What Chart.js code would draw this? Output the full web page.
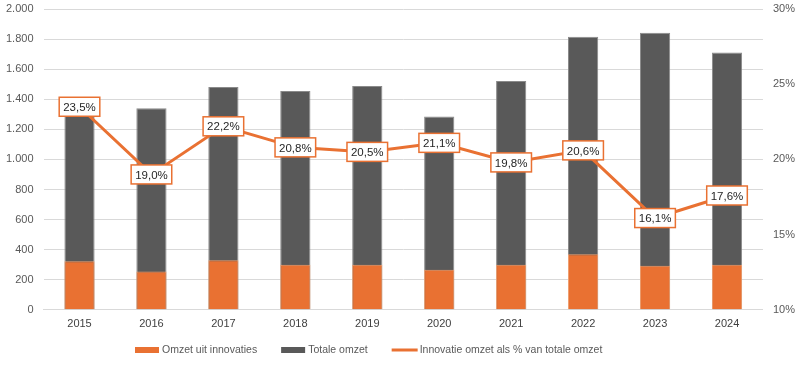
<!DOCTYPE html>
<html>
<head>
<meta charset="utf-8">
<script src="https://cdn.jsdelivr.net/npm/chart.js@4.4.1/dist/chart.umd.min.js"></script>
<style>
  html, body { margin: 0; padding: 0; background: #fff; }
  .wrap { width: 805px; height: 369px; }
</style>
</head>
<body>
<div class="wrap"><canvas id="chart" width="805" height="369"></canvas></div>
<script>
// jaren en waarden
const years = ['2015', '2016', '2017', '2018', '2019', '2020', '2021', '2022', '2023', '2024'];
const omzetInnovaties = [322, 255, 329, 300, 300, 267, 300, 369, 293, 300];
const totaleOmzet = [1290, 1340, 1482, 1455, 1488, 1285, 1522, 1815, 1842, 1711];
const aandeelPct = [23.5, 19.0, 22.2, 20.8, 20.5, 21.1, 19.8, 20.6, 16.1, 17.6];

const ORANGE = '#E97132', GREY = '#595959', TICK = '#595959', GRID = '#d9d9d9';
const FONT = "'Liberation Sans', Arial, sans-serif";

// label-kaders op de lijn
const boxLabels = {
    id: 'boxLabels',
    afterDatasetsDraw(chart) {
        const meta = chart.getDatasetMeta(2);
        const ctx = chart.ctx;
        ctx.save();
        ctx.font = `11.5px ${FONT}`;
        ctx.textAlign = 'center';
        ctx.textBaseline = 'middle';
        meta.data.forEach((pt, i) => {
            const txt = aandeelPct[i].toFixed(1).replace('.', ',') + '%';
            const w = ctx.measureText(txt).width + 8, h = 19;
            ctx.fillStyle = '#fff';
            ctx.fillRect(pt.x - w / 2, pt.y - h / 2, w, h);
            ctx.strokeStyle = ORANGE;
            ctx.lineWidth = 1.5;
            ctx.strokeRect(pt.x - w / 2, pt.y - h / 2, w, h);
            ctx.fillStyle = '#262626';
            ctx.fillText(txt, pt.x, pt.y + 1);
        });
        ctx.restore();
    }
};

// legenda onderaan, zoals in Excel (links uitgelijnd op x=135)
const bottomLegend = {
    id: 'bottomLegend',
    afterDraw(chart) {
        const ctx = chart.ctx;
        const y = 350;
        let x = 135;
        ctx.save();
        ctx.font = `10.5px ${FONT}`;
        ctx.textBaseline = 'middle';
        ctx.textAlign = 'left';
        chart.data.datasets.forEach(ds => {
            if (ds.type === 'line') {
                ctx.strokeStyle = ds.borderColor;
                ctx.lineWidth = 3;
                ctx.beginPath(); ctx.moveTo(x, y); ctx.lineTo(x + 26, y); ctx.stroke();
                x += 28;
            } else {
                ctx.fillStyle = ds.backgroundColor;
                ctx.fillRect(x, y - 3, 24, 6);
                x += 27;
            }
            ctx.fillStyle = TICK;
            ctx.fillText(ds.label, x, y);
            x += ctx.measureText(ds.label).width + 24;
        });
        ctx.restore();
    }
};

const noVertPad = s => { s.paddingTop = 0; s.paddingBottom = 0; };

new Chart(document.getElementById('chart'), {
    data: {
        labels: years,
        datasets: [
            { type: 'bar', label: 'Omzet uit innovaties', data: omzetInnovaties, backgroundColor: ORANGE, borderColor: '#f0a070', borderWidth: 1, grouped: false, order: 2, yAxisID: 'y', barPercentage: 0.42, categoryPercentage: 1 },
            { type: 'bar', label: 'Totale omzet', data: totaleOmzet, backgroundColor: GREY, borderColor: '#8a8a8a', borderWidth: 1, grouped: false, order: 3, yAxisID: 'y', barPercentage: 0.42, categoryPercentage: 1 },
            { type: 'line', label: 'Innovatie omzet als % van totale omzet', data: aandeelPct, borderColor: ORANGE, backgroundColor: ORANGE, borderWidth: 3, pointRadius: 0, order: 1, yAxisID: 'y1' }
        ]
    },
    options: {
        responsive: false, animation: false,
        layout: { autoPadding: false, padding: { left: -4, right: 0, top: 9, bottom: 30 } },
        plugins: {
            legend: { display: false },
            tooltip: { enabled: false }
        },
        scales: {
            x: {
                grid: { display: false, drawTicks: false },
                border: { color: GRID },
                ticks: { font: { family: FONT, size: 11 }, color: '#404040', padding: 8 }
            },
            y: {
                position: 'left', min: 0, max: 2000, afterFit: noVertPad,
                ticks: { stepSize: 200, font: { family: FONT, size: 11 }, color: TICK, padding: 10,
                    callback: v => v.toLocaleString('de-DE') },
                grid: { color: GRID, drawTicks: false },
                border: { display: false }
            },
            y1: {
                position: 'right', min: 10, max: 30, afterFit: noVertPad,
                ticks: { stepSize: 5, font: { family: FONT, size: 11 }, color: TICK, padding: 10, callback: v => v + '%' },
                grid: { display: false, drawTicks: false },
                border: { display: false }
            }
        }
    },
    plugins: [boxLabels, bottomLegend]
});
</script>
</body>
</html>
